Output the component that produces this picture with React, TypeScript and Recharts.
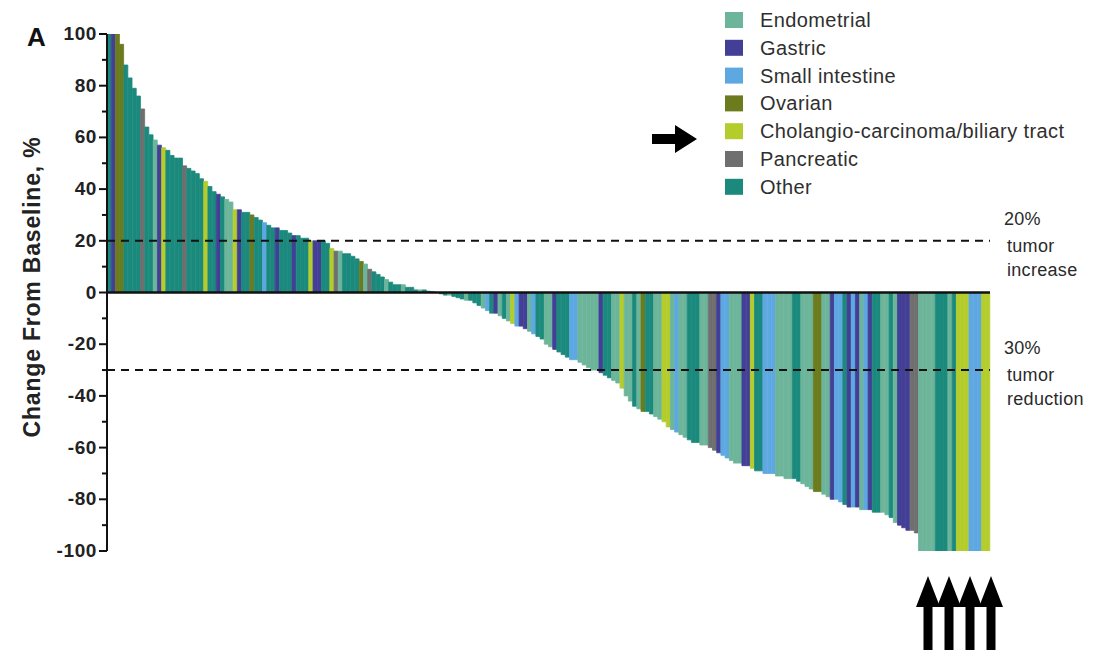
import React from 'react';
import { BarChart, Bar, XAxis, YAxis, Cell, ReferenceLine } from 'recharts';

const categoryNames = [
  'Endometrial',
  'Gastric',
  'Small intestine',
  'Ovarian',
  'Cholangio-carcinoma/biliary tract',
  'Pancreatic',
  'Other',
];
const categoryCodes = ['E', 'G', 'S', 'V', 'C', 'P', 'O'];
const categoryColors = ['#6cb59a', '#433f96', '#5ea8e2', '#6b7b1e', '#b4cd2c', '#6f6f6f', '#1b8a7d'];

const changeValues = [
  100, 100, 100, 96, 88, 83, 79, 76, 71, 64,
  61, 59, 57, 56, 55, 53, 52, 52, 49, 48,
  47, 46, 44, 43, 41, 39, 38, 37, 36, 35,
  32, 32, 31, 31, 30, 29, 28, 27, 26, 25,
  25, 24, 24, 23, 22, 22, 21, 21, 20, 20,
  20, 20, 19, 17, 16, 16, 15, 15, 14, 13,
  12, 11, 9, 8, 7, 6, 5, 4, 3, 3,
  3, 2, 2, 1, 1, 1, 0.5, 0.3, 0, -0.5,
  -1, -1, -1.5, -2, -2.5, -3, -3, -4, -5, -6,
  -7, -8, -8, -9, -10, -11, -12, -13, -13, -14,
  -15, -16, -17, -18, -20, -21, -22, -23, -24, -25,
  -26, -26, -27, -28, -29, -30, -30, -31, -32, -33,
  -34, -35, -37, -40, -42, -44, -45, -46, -46, -47,
  -48, -49, -50, -52, -53, -54, -55, -56, -57, -58,
  -58, -59, -59, -60, -61, -62, -63, -64, -65, -66,
  -66, -67, -67, -68, -69, -69, -70, -70, -70, -71,
  -71, -72, -72, -72, -73, -74, -75, -76, -77, -77,
  -78, -79, -80, -80, -81, -82, -83, -83, -83, -84,
  -84, -84, -85, -85, -85, -86, -87, -89, -90, -91,
  -92, -92, -93, -100, -100, -100, -100, -100, -100, -100,
  -100, -100, -100, -100, -100, -100, -100, -100, -100, -100,
];

const tumorTypes = [
  'O', 'G', 'V', 'V', 'O', 'O', 'O', 'O', 'P', 'O',
  'O', 'E', 'G', 'C', 'O', 'O', 'O', 'O', 'P', 'O',
  'O', 'O', 'O', 'C', 'O', 'O', 'G', 'O', 'E', 'E',
  'C', 'G', 'O', 'O', 'V', 'O', 'O', 'S', 'O', 'O',
  'G', 'O', 'O', 'O', 'G', 'O', 'O', 'O', 'C', 'G',
  'G', 'O', 'O', 'C', 'P', 'E', 'O', 'O', 'O', 'O',
  'V', 'E', 'P', 'O', 'O', 'O', 'E', 'O', 'O', 'O',
  'E', 'O', 'O', 'O', 'E', 'O', 'O', 'O', 'E', 'O',
  'O', 'E', 'O', 'O', 'O', 'E', 'O', 'O', 'O', 'E',
  'S', 'O', 'G', 'E', 'O', 'E', 'C', 'S', 'G', 'G',
  'E', 'S', 'O', 'O', 'E', 'E', 'G', 'O', 'O', 'O',
  'S', 'S', 'E', 'E', 'E', 'E', 'E', 'G', 'O', 'O',
  'E', 'E', 'C', 'E', 'E', 'O', 'E', 'V', 'O', 'O',
  'E', 'E', 'C', 'C', 'E', 'S', 'E', 'E', 'O', 'O',
  'O', 'E', 'E', 'P', 'P', 'G', 'S', 'S', 'E', 'E',
  'E', 'G', 'G', 'C', 'O', 'O', 'S', 'S', 'S', 'E',
  'E', 'E', 'E', 'O', 'O', 'E', 'E', 'E', 'V', 'V',
  'E', 'E', 'G', 'S', 'S', 'O', 'G', 'S', 'G', 'E',
  'S', 'G', 'O', 'O', 'E', 'E', 'O', 'E', 'G', 'G',
  'G', 'P', 'P', 'E', 'E', 'E', 'E', 'O', 'O', 'O',
  'E', 'O', 'C', 'C', 'C', 'S', 'S', 'S', 'C', 'C',
];

const yTicks = [-100, -90, -80, -70, -60, -50, -40, -30, -20, -10, 0, 10, 20, 30, 40, 50, 60, 70, 80, 90, 100];
const yLabelTicks = [-100, -80, -60, -40, -20, 0, 20, 40, 60, 80, 100];

const increaseThreshold = 20;
const reductionThreshold = -30;
const increaseLabel = ['20%', 'tumor', 'increase'];
const reductionLabel = ['30%', 'tumor', 'reduction'];

const data = changeValues.map((v, i) => ({ id: i + 1, value: v, type: tumorTypes[i] }));

const FONT = '"Liberation Sans", Arial, Helvetica, sans-serif';

const YTick = (props: any) => {
  const { x, y, payload } = props;
  const major = yLabelTicks.includes(payload.value);
  return (
    <g>
      <line x1={x - (major ? 8 : 5)} x2={x} y1={y} y2={y} stroke="#111" strokeWidth={2} />
      {major && (
        <text x={x - 10} y={y} dy={6} textAnchor="end" fontFamily={FONT} fontWeight="bold" fontSize={19} letterSpacing={0.6} fill="#222">
          {payload.value}
        </text>
      )}
    </g>
  );
};

const makeRefLabel = (lines: string[]) => (props: any) => {
  const vb = props.viewBox || {};
  const x = (vb.x || 0) + (vb.width || 0) + 14;
  const y = vb.y || 0;
  const offsets = [-16, 11, 35];
  return (
    <g>
      {lines.map((t, k) => (
        <text key={k} x={x + (k === 0 ? 0 : 3)} y={y + offsets[k]} fontFamily={FONT} fontSize={18} letterSpacing={0.3} fill="#2a2a2a">
          {t}
        </text>
      ))}
    </g>
  );
};

export default function App() {
  const W = 1091;
  const H = 634;
  return (
    <div style={{ position: 'relative', width: W, height: 642 }}>
      <BarChart
        width={W}
        height={H}
        data={data}
        margin={{ top: 26, right: 109, bottom: 91, left: 39 }}
        barCategoryGap={0}
        barGap={0}
      >
        <XAxis dataKey="id" hide />
        <YAxis
          width={60}
          domain={[-100, 100]}
          ticks={yTicks}
          interval={0}
          tickSize={0}
          tickMargin={0}
          tickLine={false}
          tick={<YTick />}
          axisLine={{ stroke: '#111', strokeWidth: 2 }}
          allowDataOverflow
        />
        <Bar dataKey="value" isAnimationActive={false}>
          {data.map((d, i) => {
            const c = categoryColors[categoryCodes.indexOf(d.type)];
            return <Cell key={i} fill={c} stroke={c} strokeWidth={0.8} />;
          })}
        </Bar>
        <ReferenceLine y={0} stroke="#111" strokeWidth={2.5} />
        <ReferenceLine
          y={increaseThreshold}
          stroke="#111"
          strokeWidth={2}
          strokeDasharray="8 6"
          label={makeRefLabel(increaseLabel)}
        />
        <ReferenceLine
          y={reductionThreshold}
          stroke="#111"
          strokeWidth={2}
          strokeDasharray="8 6"
          label={makeRefLabel(reductionLabel)}
        />
      </BarChart>
      <svg
        width={W}
        height={642}
        style={{ position: 'absolute', left: 0, top: 0, pointerEvents: 'none', overflow: 'visible' }}
      >
        <text x={19} y={38} fontFamily={FONT} fontWeight="bold" fontSize={26} fill="#111">A</text>
        <text
          x={0}
          y={0}
          transform="translate(32, 279) rotate(-90)"
          textAnchor="middle"
          fontFamily={FONT}
          fontWeight="bold"
          fontSize={23}
          letterSpacing={0.8}
          fill="#222"
        >
          Change From Baseline, %
        </text>
        {categoryNames.map((name, k) => {
          const cy = 12 + k * 27.8;
          return (
            <g key={name}>
              <rect x={717} y={cy - 8} width={18} height={16} fill={categoryColors[k]} />
              <text x={752} y={cy + 7} fontFamily={FONT} fontSize={20} letterSpacing={0.4} fill="#2f2f2f">{name}</text>
            </g>
          );
        })}
        <polygon points="644,126 667,126 667,117 689,131 667,145 667,136 644,136" fill="#000" />
        {[920, 941, 962, 983].map((tx) => (
          <polygon
            key={tx}
            points={`${tx},568 ${tx + 12},599 ${tx + 4.5},599 ${tx + 4.5},642 ${tx - 4.5},642 ${tx - 4.5},599 ${tx - 12},599`}
            fill="#000"
          />
        ))}
      </svg>
    </div>
  );
}
